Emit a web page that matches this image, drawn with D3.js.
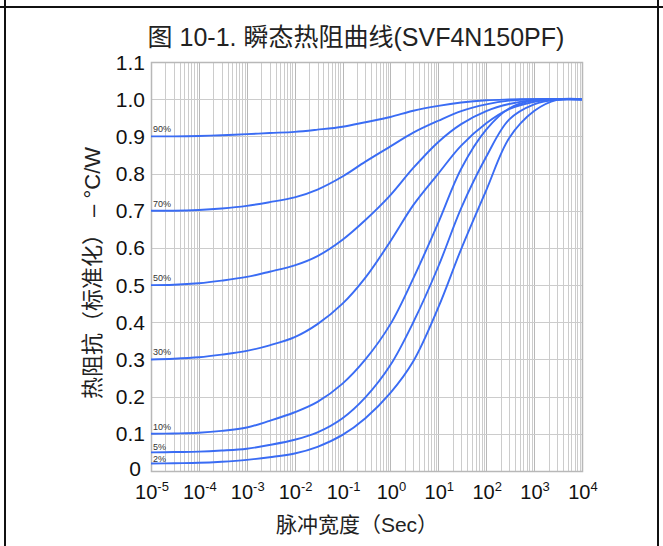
<!DOCTYPE html>
<html>
<head>
<meta charset="utf-8">
<script src="https://cdn.jsdelivr.net/npm/d3@7"></script>
<style>
body { margin: 0; background: white; }
text { font-family: "Liberation Sans", Arial, "Noto Sans CJK SC", sans-serif; }
</style>
</head>
<body>
<div id="chart"></div>
<script>
// pulse widths (s), half-decade steps, shared by every curve
let pulseWidths = [1e-5, 3e-5, 1e-4, 3e-4, 1e-3, 3e-3, 1e-2, 3e-2, 0.1, 0.3, 1, 3, 10, 30, 100, 300, 1000, 3000, 10000]

let dutyLabels = ['90%', '70%', '50%', '30%', '10%', '5%', '2%']
let dutyStart = [0.9, 0.7, 0.5, 0.3, 0.1, 0.05, 0.02]

let z90 = [0.900, 0.900, 0.901, 0.903, 0.906, 0.909, 0.912, 0.918, 0.926, 0.938, 0.952, 0.969, 0.982, 0.991, 0.997, 0.999, 1.0, 1.0, 1.0]
let z70 = [0.700, 0.700, 0.702, 0.706, 0.713, 0.723, 0.736, 0.757, 0.792, 0.832, 0.873, 0.910, 0.942, 0.968, 0.986, 0.996, 1.0, 1.0, 1.0]
let z50 = [0.500, 0.501, 0.505, 0.512, 0.522, 0.536, 0.553, 0.578, 0.622, 0.675, 0.742, 0.815, 0.885, 0.933, 0.968, 0.987, 0.998, 1.0, 1.0]
let z30 = [0.300, 0.302, 0.306, 0.313, 0.323, 0.338, 0.360, 0.395, 0.450, 0.520, 0.618, 0.715, 0.800, 0.875, 0.935, 0.973, 0.993, 1.0, 1.0]
let z10 = [0.100, 0.101, 0.103, 0.108, 0.117, 0.135, 0.158, 0.186, 0.235, 0.300, 0.395, 0.518, 0.668, 0.813, 0.918, 0.975, 0.997, 1.0, 1.0]
let z5 = [0.050, 0.051, 0.052, 0.055, 0.060, 0.070, 0.084, 0.104, 0.142, 0.198, 0.285, 0.400, 0.550, 0.707, 0.845, 0.945, 0.986, 0.999, 1.0]
let z2 = [0.020, 0.021, 0.022, 0.025, 0.030, 0.037, 0.047, 0.065, 0.097, 0.142, 0.210, 0.295, 0.440, 0.597, 0.755, 0.895, 0.968, 0.998, 1.0]

let xTickExps = [-5, -4, -3, -2, -1, 0, 1, 2, 3, 4]
let yTicks = [0, 0.1, 0.2, 0.3, 0.4, 0.5, 0.6, 0.7, 0.8, 0.9, 1.0, 1.1]

let width = 663
let height = 546
let plotLeft = 151, plotRight = 582, plotTop = 62, plotBottom = 471

let series = [z90, z70, z50, z30, z10, z5, z2]

let svg = d3.select('#chart').append('svg')
    .attr('width', width)
    .attr('height', height)

let x = d3.scaleLog()
    .domain([1e-5, 1e4])
    .range([plotLeft, plotRight])
let y = d3.scaleLinear()
    .domain([0, 1.1])
    .range([plotBottom, plotTop])

// grid: minor log lines 1..9 in each decade
let minor = []
for (let e = -5; e < 4; e++) {
    for (let m = 1; m < 10; m++) minor.push(m * Math.pow(10, e))
}
minor.push(1e4)

let grid = svg.append('g')
grid.selectAll('line.vgrid')
    .data(minor)
    .enter()
    .append('line')
        .attr('class', 'vgrid')
        .attr('x1', d => Math.round(x(d)) + 0.5)
        .attr('x2', d => Math.round(x(d)) + 0.5)
        .attr('y1', plotTop)
        .attr('y2', plotBottom)
        .attr('stroke', d => Math.abs(Math.log10(d) - Math.round(Math.log10(d))) < 1e-9 ? '#b8b8b8' : '#cccccc')
        .attr('stroke-width', 1)
grid.selectAll('line.hgrid')
    .data(yTicks)
    .enter()
    .append('line')
        .attr('class', 'hgrid')
        .attr('x1', plotLeft)
        .attr('x2', plotRight)
        .attr('y1', d => Math.round(y(d)) + 0.5)
        .attr('y2', d => Math.round(y(d)) + 0.5)
        .attr('stroke', '#cccccc')
        .attr('stroke-width', 1)

svg.append('rect')
    .attr('x', plotLeft + 0.5)
    .attr('y', plotTop + 0.5)
    .attr('width', plotRight - plotLeft)
    .attr('height', plotBottom - plotTop)
    .attr('fill', 'none')
    .attr('stroke', '#b8b8b8')
    .attr('stroke-width', 1.5)

// curves
let line = d3.line()
    .x((d, i) => x(pulseWidths[i]))
    .y(d => y(d))
    .curve(d3.curveCatmullRom.alpha(0.5))

svg.append('g').selectAll('path.curve')
    .data(series)
    .enter()
    .append('path')
        .attr('class', 'curve')
        .attr('d', d => line(d))
        .attr('fill', 'none')
        .attr('stroke', '#3a6cf4')
        .attr('stroke-width', 1.9)

svg.append('g').selectAll('text.duty')
    .data(dutyLabels)
    .enter()
    .append('text')
        .attr('class', 'duty')
        .attr('x', plotLeft + 2)
        .attr('y', (d, i) => y(dutyStart[i]) - (dutyStart[i] < 0.08 ? 2 : 4))
        .attr('font-size', 9)
        .attr('fill', '#333')
        .text(d => d)

// y tick labels
svg.append('g').selectAll('text.ytick')
    .data(yTicks)
    .enter()
    .append('text')
        .attr('class', 'ytick')
        .attr('x', d => d === 0 ? plotLeft - 10 : plotLeft - 6)
        .attr('y', d => y(d))
        .attr('dy', d => d === 0 ? '0.25em' : '0.36em')
        .attr('text-anchor', 'end')
        .attr('font-size', 21)
        .attr('fill', '#111')
        .text(d => d === 0 ? '0' : d3.format('.1f')(d))

// x tick labels 10^n
let xt = svg.append('g').selectAll('text.xtick')
    .data(xTickExps)
    .enter()
    .append('text')
        .attr('class', 'xtick')
        .attr('x', d => x(Math.pow(10, d)) + 1)
        .attr('y', 499)
        .attr('text-anchor', 'middle')
        .attr('font-size', 20)
        .attr('fill', '#111')
xt.append('tspan').text('10')
xt.append('tspan')
    .attr('dy', -8)
    .attr('font-size', 13)
    .text(d => d)

// axis titles
svg.append('text')
    .attr('x', 357)
    .attr('y', 532)
    .attr('text-anchor', 'middle')
    .attr('font-size', 21)
    .attr('fill', '#222')
    .text('脉冲宽度（Sec）')

svg.append('text')
    .attr('transform', 'translate(100,273) rotate(-90)')
    .attr('text-anchor', 'middle')
    .attr('font-size', 22)
    .attr('fill', '#222')
    .text('热阻抗（标准化） – °C/W')

svg.append('text')
    .attr('x', 356)
    .attr('y', 46)
    .attr('text-anchor', 'middle')
    .attr('font-size', 25)
    .attr('fill', '#222')
    .text('图  10-1.  瞬态热阻曲线(SVF4N150PF)')

// outer frame
let frame = svg.append('g')
    .attr('stroke', '#111')
    .attr('stroke-width', 2)
frame.append('line').attr('x1', 0).attr('x2', width).attr('y1', 7).attr('y2', 7)
frame.append('line').attr('x1', 5).attr('x2', 5).attr('y1', 0).attr('y2', height)
frame.append('line').attr('x1', 658).attr('x2', 658).attr('y1', 0).attr('y2', height)
</script>
</body>
</html>
